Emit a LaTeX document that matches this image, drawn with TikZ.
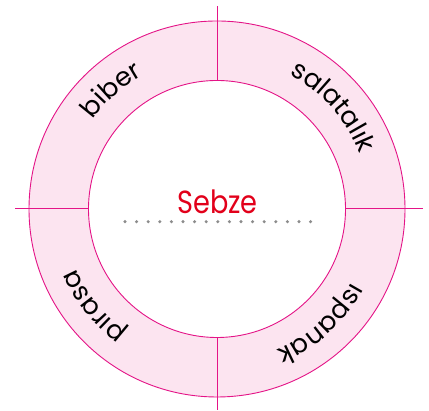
\documentclass[tikz,border=0pt]{standalone}
\usepackage{fontspec}
\setmainfont{Poppins}
\newfontfamily\ringfont{Poppins}
\newfontfamily\titlefont{Poppins}[FakeStretch=0.85]
\usetikzlibrary{decorations.text,calc}
\definecolor{ringline}{RGB}{228,20,135}
\definecolor{ringfill}{RGB}{252,228,240}
\definecolor{titlered}{RGB}{226,0,26}
\definecolor{dotgray}{RGB}{140,140,140}
\tikzset{
  ringedge/.style={draw=ringline, line width=0.9pt},
  crossline/.style={draw=ringline, line width=1pt},
  ringword/.style={decorate, decoration={text along path, text align=center,
     text={|\ringfont\fontsize{26}{26}\selectfont|#1}}},
}
\begin{document}
\begin{tikzpicture}[x=1pt,y=1pt]
\useasboundingbox (0,0) rectangle (429,411);
\coordinate (c) at (217,202);
\def\Ro{188}\def\Ri{128.5}\def\Rb{153}
% ring
\fill[ringfill, even odd rule] (c) circle[radius=\Ro] (c) circle[radius=\Ri];
\draw[ringedge] (c) circle[radius=\Ro];
\draw[ringedge] (c) circle[radius=\Ri];
% cross lines
\draw[crossline] ([yshift=\Ri]c) -- ([yshift=203]c);
\draw[crossline] ([yshift=-\Ri]c) -- ([yshift=-201]c);
\draw[crossline] ([xshift=-\Ri]c) -- ([xshift=-202]c);
\draw[crossline] ([xshift=\Ri]c) -- ([xshift=205.7]c);
% words along the ring (clockwise)
\path[ringword=biber, shift={(c)}] (171.6:\Rb) arc[start angle=171.6, end angle=91.6, radius=\Rb];
\path[ringword=salatalık, shift={(c)}] (86.3:\Rb) arc[start angle=86.3, end angle=-3.7, radius=\Rb];
\path[ringword=ıspanak, shift={(c)}] (-2.8:\Rb) arc[start angle=-2.8, end angle=-92.8, radius=\Rb];
\path[ringword=pırasa, shift={(c)}] (-96.8:\Rb) arc[start angle=-96.8, end angle=-186.8, radius=\Rb];
% title
\node[text=titlered, font=\titlefont\fontsize{32}{32}\selectfont, anchor=base, inner sep=0pt] (title) at (217.5,197.7) {Sebze};
% dotted line
\foreach \i in {0,...,16} {
  \fill[dotgray] ({125+11.6*\i},189.3) circle[radius=1.7];
}
\end{tikzpicture}
\end{document}
